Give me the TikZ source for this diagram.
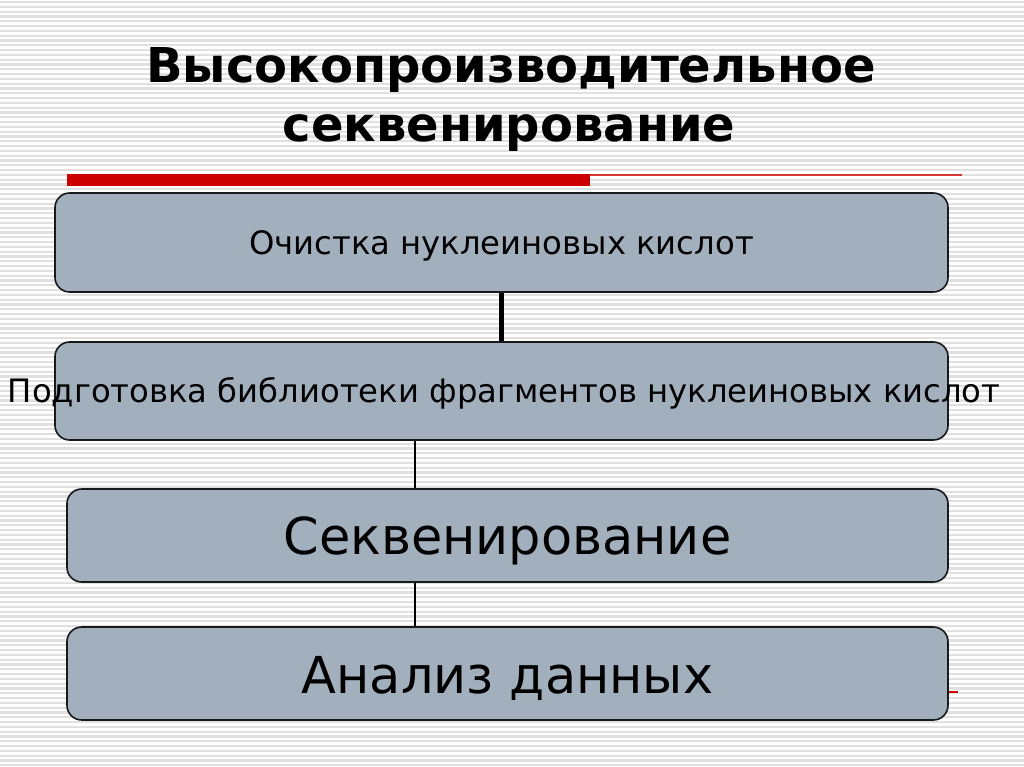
\documentclass[tikz,border=0pt]{standalone}
\usepackage{fontspec}
\setmainfont{DejaVu Sans}
\definecolor{boxfill}{HTML}{A2B0BE}
\definecolor{stripe}{HTML}{E0E0E0}
\definecolor{redbar}{HTML}{CC0000}
\begin{document}
\begin{tikzpicture}[x=0.75pt,y=-0.75pt,
  stepbox/.style={draw=black!90,line width=1.2pt,fill=boxfill,rounded corners=11pt,inner sep=0pt},
  small/.style={font=\fontsize{24.2}{28}\selectfont},
  big/.style={font=\fontsize{38.2}{44}\selectfont},
  link/.style={draw=black,line width=2pt}]
\useasboundingbox (0,0) rectangle (1024,767);
\fill[white] (0,0) rectangle (1024,767);
\foreach \i in {0,...,160} {
  \fill[stripe] (0,{\i*4.8+1}) rectangle (1024,{\i*4.8+3.2});
}
% title
\node[font=\bfseries\fontsize{36}{44}\selectfont,anchor=base] (t1) at (511,83) {Высокопроизводительное};
\node[font=\bfseries\fontsize{36}{44}\selectfont,anchor=base] (t2) at (509,142) {секвенирование};
% red bars
\fill[redbar] (67,174) rectangle (590,186);
\draw[redbar!80,line width=0.8pt] (590,175) -- (962,175);
% boxes
\node[stepbox,minimum width=893*0.75pt,minimum height=99*0.75pt] (b1) at (501.5,242.5) {};
\node[small,yshift=-2.2pt] at (b1) {Очистка нуклеиновых кислот};
\node[stepbox,minimum width=893*0.75pt,minimum height=98*0.75pt] (b2) at (501.5,391) {};
\node[small,yshift=-1.5pt,xshift=2pt] at (b2) {Подготовка библиотеки фрагментов нуклеиновых кислот};
\node[stepbox,minimum width=881*0.75pt,minimum height=93*0.75pt] (b3) at (507.5,535.5) {};
\node[big,yshift=-4pt] at (b3) {Секвенирование};
\node[stepbox,minimum width=881*0.75pt,minimum height=93*0.75pt] (b4) at (507.5,673.5) {};
\node[big,yshift=-4pt] at (b4) {Анализ данных};
% connectors
\draw[link,line width=4.2pt] (b1.south) -- (b2.north);
\draw[link] (b2.south -| 415,0) -- (b3.north -| 415,0);
\draw[link] (b3.south -| 415,0) -- (b4.north -| 415,0);
% small red tick
\draw[redbar,line width=0.8pt] (b4.east |- 0,692) -- (958,692);
\end{tikzpicture}
\end{document}
